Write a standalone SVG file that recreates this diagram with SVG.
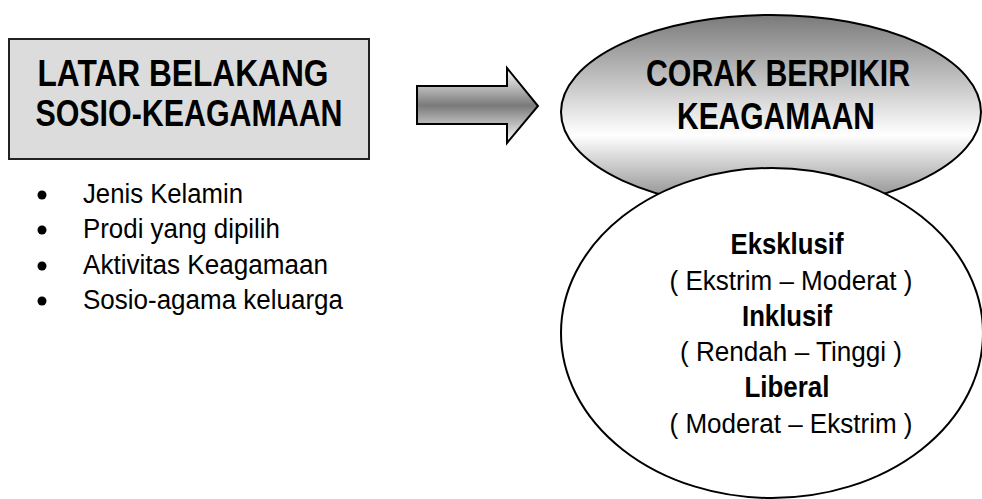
<svg xmlns="http://www.w3.org/2000/svg" width="982" height="499" viewBox="0 0 982 499">
<defs>
<linearGradient id="arrowGrad" x1="0" y1="0" x2="0" y2="1">
<stop offset="0" stop-color="#ffffff"/>
<stop offset="0.5" stop-color="#7a7a7a"/>
<stop offset="1" stop-color="#ffffff"/>
</linearGradient>
<linearGradient id="ovalGrad" x1="0" y1="0" x2="0" y2="1">
<stop offset="0" stop-color="#7a7a7a"/>
<stop offset="0.62" stop-color="#ffffff"/>
<stop offset="1" stop-color="#808080"/>
</linearGradient>
<style>
.title{font-family:"Liberation Sans",Arial,sans-serif;font-weight:bold;font-size:36px;fill:#000;text-anchor:middle}
.body{font-family:"Liberation Sans",Arial,sans-serif;font-size:27px;fill:#000}
.bold{font-family:"Liberation Sans",Arial,sans-serif;font-weight:bold;font-size:29px;fill:#000;text-anchor:middle}
.mid{text-anchor:middle}
.outline{stroke:#000;stroke-width:2}
</style>
</defs>
<rect width="982" height="499" fill="#ffffff"/>

<g id="latar-belakang">
<rect x="9" y="39" width="360" height="120" fill="#dcdcdc" stroke="#222" stroke-width="2"/>
<text class="title" x="183" y="86" textLength="291" lengthAdjust="spacingAndGlyphs">LATAR BELAKANG</text>
<text class="title" x="189" y="126" textLength="307" lengthAdjust="spacingAndGlyphs">SOSIO-KEAGAMAAN</text>
</g>

<g id="faktor-list">
<circle cx="42" cy="195" r="4.5" fill="#000"/>
<circle cx="42" cy="230" r="4.5" fill="#000"/>
<circle cx="42" cy="266" r="4.5" fill="#000"/>
<circle cx="42" cy="301" r="4.5" fill="#000"/>
<text class="body" x="83" y="203" textLength="160" lengthAdjust="spacingAndGlyphs">Jenis Kelamin</text>
<text class="body" x="83" y="238" textLength="197" lengthAdjust="spacingAndGlyphs">Prodi yang dipilih</text>
<text class="body" x="83" y="274" textLength="245" lengthAdjust="spacingAndGlyphs">Aktivitas Keagamaan</text>
<text class="body" x="83" y="309" textLength="260" lengthAdjust="spacingAndGlyphs">Sosio-agama keluarga</text>
</g>

<g id="connectors">
<path d="M417,86 H507 V68 L538,106 L507,143 V124 H417 Z" fill="url(#arrowGrad)" class="outline"/>
</g>

<g id="corak-berpikir">
<ellipse cx="771" cy="112" rx="210" ry="97" fill="url(#ovalGrad)" class="outline"/>
<text class="title" x="778" y="86" textLength="264" lengthAdjust="spacingAndGlyphs">CORAK BERPIKIR</text>
<text class="title" x="776" y="129" textLength="198" lengthAdjust="spacingAndGlyphs">KEAGAMAAN</text>
</g>

<g id="kategori">
<ellipse cx="772" cy="333" rx="211" ry="165" fill="#ffffff" class="outline"/>
<text class="bold" x="787" y="254" textLength="113" lengthAdjust="spacingAndGlyphs">Eksklusif</text>
<text class="body mid" x="791" y="290" textLength="243" lengthAdjust="spacingAndGlyphs">( Ekstrim – Moderat )</text>
<text class="bold" x="787" y="326" textLength="90" lengthAdjust="spacingAndGlyphs">Inklusif</text>
<text class="body mid" x="791" y="361" textLength="222" lengthAdjust="spacingAndGlyphs">( Rendah – Tinggi )</text>
<text class="bold" x="787" y="397" textLength="85" lengthAdjust="spacingAndGlyphs">Liberal</text>
<text class="body mid" x="791" y="433" textLength="243" lengthAdjust="spacingAndGlyphs">( Moderat – Ekstrim )</text>
</g>
</svg>
